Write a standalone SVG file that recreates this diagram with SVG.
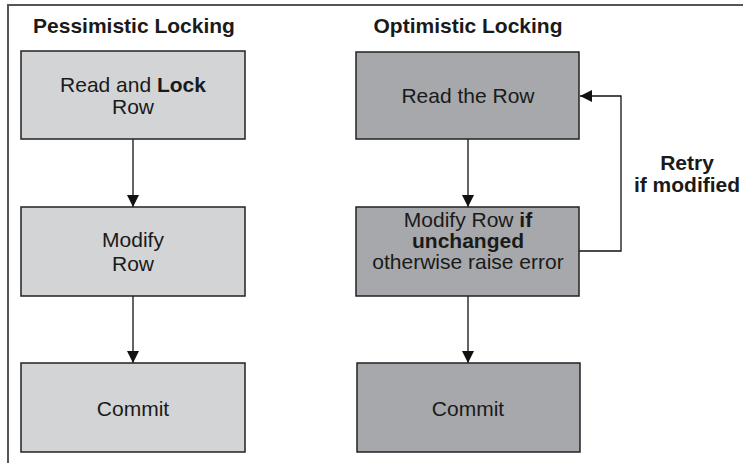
<svg xmlns="http://www.w3.org/2000/svg" width="743" height="463" viewBox="0 0 743 463">
  <defs>
    <style>
      text { font-family: "Liberation Sans", Arial, Helvetica, sans-serif; font-size: 21px; fill: #1a1a1a; text-anchor: middle; }
      .title, .b { font-weight: bold; }
      .frame { fill: none; stroke: #555; stroke-width: 2; }
      .pess { fill: #d3d4d6; stroke: #222; stroke-width: 1.5; }
      .opt { fill: #a7a8ab; stroke: #222; stroke-width: 1.5; }
      .wire { fill: none; stroke: #111; stroke-width: 1.3; }
    </style>
    <marker id="head" viewBox="0 0 12 12" refX="12" refY="6" markerWidth="12" markerHeight="12" markerUnits="userSpaceOnUse" orient="auto">
      <path d="M0,0 L12,6 L0,12 Z" fill="#111"/>
    </marker>
  </defs>

  <rect width="743" height="463" fill="#fff"/>
  <!-- open frame: top and left edges only -->
  <path class="frame" d="M8,463 V5 H743"/>

  <text class="title" x="134" y="33">Pessimistic Locking</text>
  <text class="title" x="468" y="33">Optimistic Locking</text>

  <g id="connectors">
    <line class="wire" x1="133" y1="139" x2="133" y2="207" marker-end="url(#head)"/>
    <line class="wire" x1="133" y1="296" x2="133" y2="363" marker-end="url(#head)"/>
    <line class="wire" x1="468" y1="139" x2="468" y2="207" marker-end="url(#head)"/>
    <line class="wire" x1="468" y1="296" x2="468" y2="363" marker-end="url(#head)"/>
    <polyline class="wire" points="579,251 621,251 621,96 580,96" marker-end="url(#head)"/>
    <text class="b" x="687" y="170">Retry</text>
    <text class="b" x="687" y="192">if modified</text>
  </g>

  <g id="pess-read">
    <rect class="pess" x="21" y="51" width="224" height="88"/>
    <text x="133" y="92">Read and <tspan class="b">Lock</tspan></text>
    <text x="133" y="114">Row</text>
  </g>
  <g id="pess-modify">
    <rect class="pess" x="21" y="207" width="224" height="89"/>
    <text x="133" y="247">Modify</text>
    <text x="133" y="271">Row</text>
  </g>
  <g id="pess-commit">
    <rect class="pess" x="21" y="363" width="224" height="89"/>
    <text x="133" y="416">Commit</text>
  </g>

  <g id="opt-read">
    <rect class="opt" x="356" y="52" width="223" height="87"/>
    <text x="468" y="103">Read the Row</text>
  </g>
  <g id="opt-modify">
    <rect class="opt" x="356" y="207" width="223" height="89"/>
    <text x="468" y="227">Modify Row <tspan class="b">if</tspan></text>
    <text class="b" x="468" y="248">unchanged</text>
    <text x="468" y="269">otherwise raise error</text>
  </g>
  <g id="opt-commit">
    <rect class="opt" x="357" y="363" width="223" height="89"/>
    <text x="468" y="416">Commit</text>
  </g>
</svg>
